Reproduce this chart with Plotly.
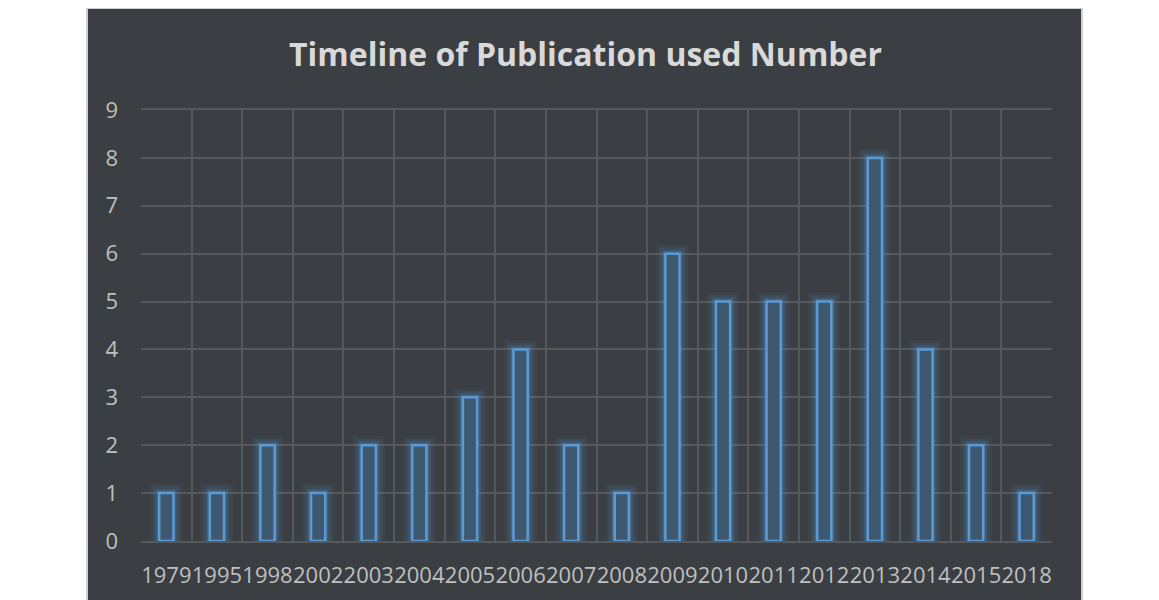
import plotly.graph_objects as go

years = ["1979", "1995", "1998", "2002", "2003", "2004", "2005", "2006", "2007",
         "2008", "2009", "2010", "2011", "2012", "2013", "2014", "2015", "2018"]
counts = [1, 1, 2, 1, 2, 2, 3, 4, 2, 1, 6, 5, 5, 5, 8, 4, 2, 1]
y_ticks = list(range(0, 10))

OFF = 8  # page body margin
W, H = 1159 - OFF, 600 - OFF
L, T = 141 - OFF, 110 - OFF
PR, PB = 1052 - OFF, 541 - OFF
R, B = W - PR, H - PB
pw, ph = PR - L, PB - T

fig = go.Figure()
# glow layers
for lw, a in [(18, 0.06), (13, 0.09), (8, 0.14), (5, 0.2)]:
    fig.add_trace(go.Bar(x=years, y=counts, width=0.28,
                         marker=dict(color="rgba(0,0,0,0)",
                                     line=dict(color=f"rgba(91,155,213,{a})", width=lw)),
                         hoverinfo="skip", showlegend=False))
fig.add_trace(go.Bar(x=years, y=counts, width=0.28,
                     marker=dict(color="#3e5870", line=dict(color="#5b9bd5", width=2.5)),
                     showlegend=False))

fig.update_layout(
    width=W, height=H,
    margin=dict(l=L, r=R, t=T, b=B, autoexpand=False),
    paper_bgcolor="white", plot_bgcolor="#3b3f43",
    barmode="overlay",
    title=dict(text="<b>Timeline of Publication used Number</b>", x=(585.5 - OFF) / W,
               xanchor="center", y=1 - (55 - OFF) / H, yanchor="middle",
               font=dict(family="Open Sans", size=32, color="#d9d9d9")),
    shapes=[dict(type="rect", xref="paper", yref="paper",
                 x0=(87 - 141) / pw, x1=(1082 - 141) / pw,
                 y0=(541 - 602) / ph, y1=(541 - 8) / ph,
                 fillcolor="#3b3f43", line=dict(color="#cfcfcf", width=2), layer="below")],
    font=dict(family="Open Sans", color="#bfbfbf", size=22),
)
fig.update_xaxes(type="category", tickson="boundaries", showgrid=True, gridcolor="#56595c",
                 gridwidth=2, ticks="", ticklabelstandoff=14, zeroline=False,
                 tickangle=0, dtick=1, automargin=False,
                 showline=True, linecolor="#56595c", linewidth=2, mirror=True,
                 tickfont=dict(size=22, color="#bfbfbf"))
fig.update_yaxes(range=[0, 9], tickvals=y_ticks, showgrid=True, gridcolor="#56595c",
                 gridwidth=2, zeroline=False, ticks="", ticklabelstandoff=22, automargin=False,
                 tickfont=dict(size=22, color="#bfbfbf"))

fig.write_html("out.html")
